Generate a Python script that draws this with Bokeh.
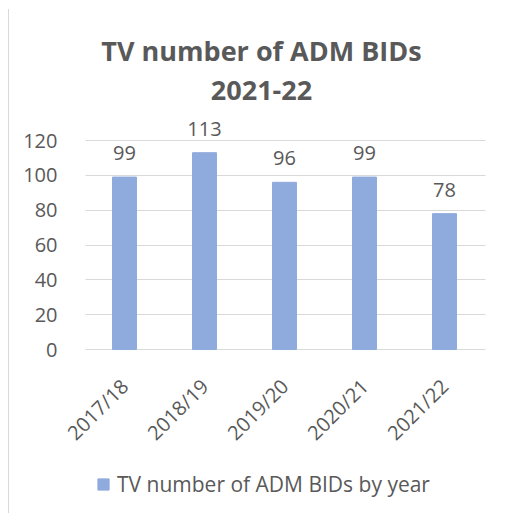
from bokeh.plotting import figure
from bokeh.models import ColumnDataSource, LabelSet, Label, FixedTicker, Legend, LegendItem, Range1d
from bokeh.core.properties import value
from bokeh.embed import file_html
from bokeh.resources import INLINE
import math

categories = ["2017/18", "2018/19", "2019/20", "2020/21", "2021/22"]
values = [99, 113, 96, 99, 78]
y_ticks = [0, 20, 40, 60, 80, 100, 120]
title_lines = ["TV number of ADM BIDs", "2021-22"]
series_name = "TV number of ADM BIDs by year"

FONT = "Open Sans"
GREY = "#595959"
BAR = "#8FAADC"
GRID = "#D9D9D9"

# layout (pixels): frame spans the whole chart, axes fixed inside it
PX_PER_UNIT = 209 / 120.0
ABOVE_ZERO = 339
BELOW_ZERO = 161
Y_END = ABOVE_ZERO / PX_PER_UNIT
Y_START = -BELOW_ZERO / PX_PER_UNIT
CAT_PX = 80.0
LEFT_PX = 115.0    # frame left to first category centre
RIGHT_PX = 381.0   # first category centre to frame right
X_START = -LEFT_PX / CAT_PX
X_END = RIGHT_PX / CAT_PX
n = len(categories)
x_idx = list(range(n))
PLOT_LO, PLOT_HI = -0.5 + 0.0125, n - 0.5 + 0.0125

src = ColumnDataSource(dict(x=x_idx, top=values, lbl=[str(v) for v in values]))

p = figure(x_range=Range1d(X_START, X_END), y_range=Range1d(Y_START, Y_END),
           width=496, height=504, output_backend="svg", toolbar_location=None,
           min_border_left=0, min_border_right=0, min_border_top=1, min_border_bottom=3)
p.styles = {"margin-left": "8px", "margin-top": "9px", "border-left": "1px solid #D9D9D9"}
p.outline_line_color = None
p.background_fill_color = "white"

r = p.vbar(x="x", top="top", width=0.3, color=BAR, source=src)

p.xgrid.grid_line_color = None
p.ygrid.grid_line_color = GRID
p.ygrid.ticker = FixedTicker(ticks=y_ticks)
p.ygrid.cross_bounds = (PLOT_LO, PLOT_HI)

p.yaxis.fixed_location = PLOT_LO
p.yaxis.ticker = FixedTicker(ticks=y_ticks)
p.yaxis.axis_line_color = None
p.yaxis.major_tick_line_color = None
p.yaxis.minor_tick_line_color = None
p.yaxis.major_label_standoff = 22
p.yaxis.major_label_text_font = FONT
p.yaxis.major_label_text_font_size = "20px"
p.yaxis.major_label_text_color = GREY

p.xaxis.fixed_location = 0
p.xaxis.ticker = FixedTicker(ticks=x_idx)
p.xaxis.major_label_overrides = {i: c for i, c in zip(x_idx, categories)}
p.xaxis.axis_line_color = None
p.xaxis.major_tick_line_color = None
p.xaxis.minor_tick_line_color = None
p.xaxis.major_label_orientation = math.pi / 4
p.xaxis.major_label_standoff = 27
p.xaxis.major_label_text_font = FONT
p.xaxis.major_label_text_font_size = "20px"
p.xaxis.major_label_text_color = GREY

labels = LabelSet(x="x", y="top", text="lbl", source=src, text_align="center",
                  text_baseline="bottom", y_offset=17, text_font=value(FONT),
                  text_font_size=value("20px"), text_color=GREY)
p.add_layout(labels)

for t, yy in zip(title_lines, [460, 420]):
    p.add_layout(Label(x=252, y=yy, x_units="screen", y_units="screen", text=t,
                       text_align="center", text_baseline="middle", text_font=FONT,
                       text_font_size="27px", text_font_style="bold", text_color=GREY))

legend = Legend(items=[LegendItem(label=series_name, renderers=[r])],
                location=(87, 12), orientation="horizontal",
                glyph_width=14, glyph_height=14, label_standoff=7,
                label_text_font=FONT, label_text_font_size="21px", label_text_color=GREY,
                border_line_color=None, background_fill_alpha=0, margin=0, padding=0,
                label_height=14)
p.add_layout(legend)

open("out.html", "w").write(file_html(p, INLINE))
